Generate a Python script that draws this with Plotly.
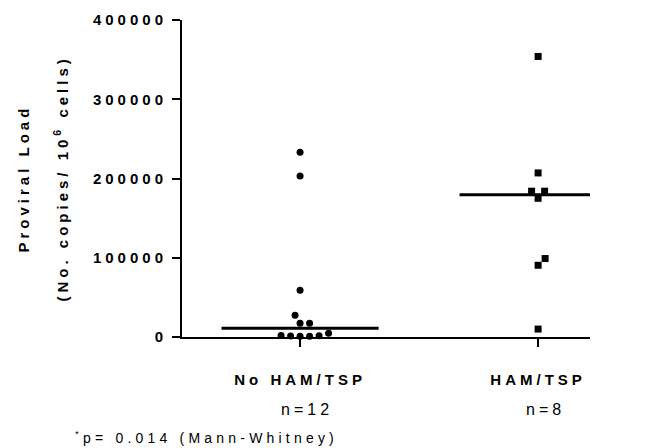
import plotly.graph_objects as go
import math

# ---------------- data ----------------
categories = ["No HAM/TSP", "HAM/TSP"]
n_labels = ["n=12", "n=8"]
no_ham_values = [233000, 203000, 59000, 27500, 17300, 17300, 4700, 1800, 1500, 1300, 1100, 900]
ham_values = [354000, 207000, 184000, 184000, 175000, 99000, 90500, 10000]
y_tickvals = [0, 100000, 200000, 300000, 400000]
y_ticktext = ["0", "100000", "200000", "300000", "400000"]
footnote = "<sup>*</sup>p= 0.014 (Mann-Whitney)"
y_title_1 = "Proviral Load"
y_title_2 = "(No. copies/ 10<sup>6</sup> cells)"

# ---------------- layout geometry ----------------
W, H = 649, 448
ML, MR, MT, MB = 182, 59, 20, 111
plot_w = W - ML - MR
plot_h = H - MT - MB
x_range = [-0.496, 1.218]
y_range = [0, 400000]
px_per_x = plot_w / (x_range[1] - x_range[0])
px_per_y = plot_h / (y_range[1] - y_range[0])


def median(v):
    s = sorted(v)
    n = len(s)
    return s[n // 2] if n % 2 else (s[n // 2 - 1] + s[n // 2]) / 2


def beeswarm(values, diam=9.5):
    """Greedy beeswarm: returns x offsets (data units) avoiding overlap."""
    order = sorted(range(len(values)), key=lambda i: values[i])
    placed = []
    offs = [0.0] * len(values)
    for i in order:
        yp = values[i] * px_per_y
        k = 0
        while True:
            cand = 0.5 * ((k + 1) // 2) * (1 if k % 2 == 1 else -1) if k else 0.0
            ok = all(math.hypot(cand - px, yp - py) >= diam for px, py in placed)
            if ok:
                break
            k += 1
        placed.append((cand, yp))
        offs[i] = cand / px_per_x
    return offs


fig = go.Figure()

FAM = "Liberation Sans, Arial, sans-serif"
font_b = dict(family=FAM, size=15, color="black", weight="bold")
font_n = dict(family=FAM, size=16, color="black")

groups = [(no_ham_values, "circle"), (ham_values, "square")]
half = 0.33
for gi, (vals, sym) in enumerate(groups):
    offs = beeswarm(vals)
    fig.add_trace(go.Scatter(
        x=[gi + o for o in offs], y=vals, mode="markers",
        marker=dict(symbol=sym, size=7, color="black", line=dict(width=0)),
        cliponaxis=False, showlegend=False, hoverinfo="y"))
    m = median(vals)
    fig.add_trace(go.Scatter(
        x=[gi - half, gi + half], y=[m, m], mode="lines",
        line=dict(color="black", width=3), showlegend=False, hoverinfo="skip"))

fig.update_layout(
    width=W, height=H,
    margin=dict(l=ML, r=MR, t=MT, b=MB, pad=0),
    plot_bgcolor="white", paper_bgcolor="white",
    showlegend=False,
    xaxis=dict(range=x_range, tickvals=[0, 1],
               ticktext=["<b>" + c + "</b>" for c in categories],
               ticks="outside", ticklen=8, tickwidth=2, tickcolor="black",
               showline=True, linewidth=2, linecolor="black",
               showgrid=False, zeroline=False, tickfont=font_b,
               ticklabelstandoff=20),
    yaxis=dict(range=y_range, tickvals=y_tickvals, ticktext=y_ticktext,
               ticks="outside", ticklen=8, tickwidth=2, tickcolor="black",
               showline=True, linewidth=2, linecolor="black",
               showgrid=False, zeroline=False, tickfont=font_b,
               ticklabelstandoff=2),
)

ann = []
ann.append(dict(text=y_title_1, x=(23 - ML) / plot_w, y=0.5, xref="paper", yref="paper",
                textangle=-90, showarrow=False, font=font_b, xanchor="center", yanchor="middle"))
ann.append(dict(text=y_title_2, x=(61 - ML) / plot_w, y=0.5, xref="paper", yref="paper",
                textangle=-90, showarrow=False, font=font_b, xanchor="center", yanchor="middle"))
for gi, nl in enumerate(n_labels):
    ann.append(dict(text=nl, x=gi + 0.03, y=-(409 - (MT + plot_h)) / plot_h, xref="x", yref="paper",
                    showarrow=False, font=font_n, xanchor="center", yanchor="middle"))
ann.append(dict(text=footnote, x=(73 - ML) / plot_w, y=-(437 - (MT + plot_h)) / plot_h,
                xref="paper", yref="paper", showarrow=False, font=dict(font_n, size=14),
                xanchor="left", yanchor="middle", align="left"))
fig.update_layout(annotations=ann)

post = """
var gd = document.getElementById('{plot_id}');
function ls(){
  gd.querySelectorAll('g.ytick text').forEach(function(t){t.style.letterSpacing='4px';});
  gd.querySelectorAll('g.xtick text').forEach(function(t){t.style.letterSpacing='4px';});
  gd.querySelectorAll('g.annotation').forEach(function(g){
    var i = g.getAttribute('data-index');
    var sp = (i==='0'||i==='1') ? '4px' : (i==='4' ? '4.2px' : '4px');
    g.querySelectorAll('text').forEach(function(t){t.style.letterSpacing=sp;});
  });
}
ls(); setTimeout(ls, 0); setTimeout(ls, 200);
gd.on('plotly_afterplot', ls);
"""
fig.write_html("out.html", post_script=post)
